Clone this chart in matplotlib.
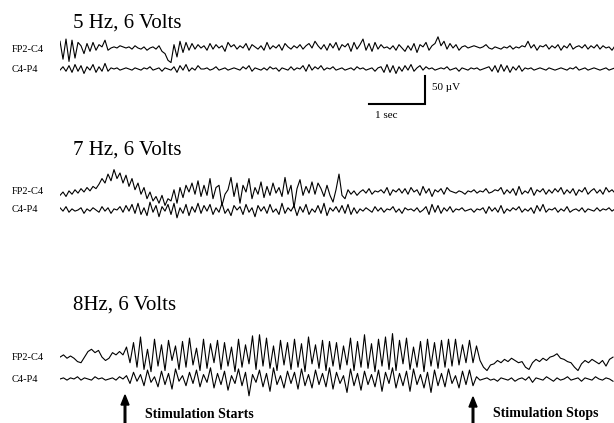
import numpy as np
import matplotlib.pyplot as plt

# EEG traces, amplitudes in µV (scale bar: 50 µV, 1 sec)
# panels 1-2 were read every 3 px (56 px = 1 s), panel 3 at 16 samples/s
fs_5hz = 56 / 3
fs_7hz = 56 / 3
fs_8hz = 16.0

fp2_c4_5hz = [12, -20, 16, -24, 14, -18, 10,
              4, -10, 8, -6, 10, -4, 6, 2, 14,
              -4, 0, 2, 0, 4, 2, 0,
              2, -2, 4, 0, -2, 2, -4, 0, 2,
              -2, 4, -6, -10, -22,
              -26, 6, -16, 12, -8,
              10, -4, 8, -2, 6, 0,
              4, -4, 8, -2, 6, 0, 4, -6, 10, 2,
              6, -2, 4, 0, 8, -4, 6, 2, -2,
              4, -4, 10, -2, 4, 0, 6, -4, 8, 2,
              -2, 4, 0, 6, -2, 4, 8, 0, 12,
              4, -2, 6, -4, 8, 0, 10, -4, 6, 2,
              8, -6, 10, -2, 6, 16, -4, 8, -6, 10,
              -2, 6, 0, 2, -2, 4, -4, 6, 0, -6,
              4, -4, 8, -8, 6, 2, 10, -4, 4, 8,
              20, 4, 12, -2, 8, 0, 6, -4, 2, 4,
              0, 2, 4, 2, 0, 2, 6, 0, -2, 2,
              0, -2, 2, 0, 4, -2, 2, 0, 4, 2,
              12, 0, 6, -4, 4, 2, 6, -2, 4, 0,
              6, -4, 4, 0, 8, -2, 2, 4, 0, 6,
              -2, 4, 0, 6, -2, 4, 0, 2, -4, 4]

c4_p4_5hz = [-2, 4, -4, 6, -6, 8, -4, 6, -8, 4, -2, 8, -6, 4, -4, 10, -4, 2,
             0, 2, -2, 0, 2, 0, -2, 2, 0, -2, 2, 0, 4, -2, 0, 2, -4, 2, 0, -2,
             4, -6, 6, -2, 8, -4, 2, -2, 6, 0,
             0, 2, -2, 0, 4, -2, 0, 2, -2, 0, 2, 0, -2, 4, 0, 6, -4, 2, 0, -2,
             2, -2, 4, 0, 2, -4, 2, 0, -2, 4, -2, 2, 0,
             6, -4, 8, -2, 4, 0, 6, -2, 2, 0, 4, -2,
             0, 2, -2, 0, 2, -2, 4, 0, 2, -2, 0, 2, -4, 2,
             4, -6, 8, -6, 6, -8, 4, -4, 6, -2, 8, -4, 2, 6, -2, 4,
             0, 2, -2, 0, 2, 0, 4, -2, 0, 2, -4, 2, 0, -2, 2, 0, 2, -2, 0, 2,
             4, -4, 6, -6, 8, -4, 6, -6, 4, -2, 6, -4, 2,
             0, 2, -2, 0, 2, 0, -2, 2, 0, -2, 0, 2, 0, -2, 2, 0, 4, -2, 0, 2,
             -2, 0, 2, 0, -2, 0, 2, -2, 0, 2, 0]

fp2_c4_7hz = [-6, 0, -8, 2, -4, 4, -2, 6, 0, 8, 2, 10, 6,
              14, 24, 16, 32, 20, 40, 24, 34,
              16, 30, 10, 24, 4, 16, -4, 8, -12, 0,
              -16, -8, -20, -6, -24, -12,
              -16, 4, -20, 8, -10, 12,
              0, 16, -4, 20, -8, 12, -6, 24, -12, 8, 12, -24, -4,
              4, 26, -8, 16, -20, 12, 0, 24, -12, 8, -4, 18, -10,
              10, -6, 16, -2, 8, -8, 26, -4, 12, -28, 6, 22, -6,
              10, -2, 18, -4, 16, 6, -8, 12, -6, -18,
              4, 32, -6,
              -12, 4, -4, 2, -6, 0, 4, -2, 6, -4, 2, 0, 4, -2, 8, -6, 4, 0, 6,
              -2, 6, -4, 8, 0, 4, -6, 10, -2, 6, -8, 4, 0, 6, -4, 8, 2,
              0, -2, 2, 0, -4, 2, 0, 4, -2, 2, 0, 6, -2, 0, 4, 2,
              8, -4, 4, -2, 6, -6, 10, -4, 2, -2, 8, -6, 4, 0, 6, -4,
              4, -2, 6, 0, 8, -4, 4, -2, 6, -6, 4, 0, 8, -4, 2, 6, -2, 4, -4, 8,
              0, 4, -2, 6]

c4_p4_7hz = [4, -2, 6, -4, 2, -2, 0, 4, -6, 2, -2, 4, 0, -4, 6, -2, 4, -6, 2, 0,
             6, -4, 8, -2,
             10, -6, 12, -8, 4, -10, 14, -4, 8, -12, 6, -2, 10, -8, 12, -14, 4,
             -6, 10, -10, 6, -4, 12,
             -6, 8, -2, 10, -8, 4, -4, 12, -6, 2, -10, 8, 0, 6, -8, 10, -4, 4,
             -12, 8, -2, 6, -6, 10, -4, 2, -8, 12, -6, 4, -2, 8, -10, 6, -4, 10,
             -8, 2, -4, 8, -6, 12, -10, 4, -2,
             6, -4, 8, -6, 10, -8, 4, -6, 2, -2, 4, 0, -4, 6, -2, 4, -4, 2, 0,
             6, -4, 2, -6, 4, 0, 2, -2, 4, -4, 0, 6, -8, 10, -4, 8, -6, 4, -2,
             6, -4, 2, 0, 4, -2, 0, 2, -4, 2, 0, 4, -6, 6, -2, 4, -4, 8, -6, 2,
             -2, 4, 0, 6, -4, 2, -2, 4, -6, 8, -2, 10, -4, 2, 0, 4, -4, 2, -2,
             6, -4, 0, 2, -2, 4, -4, 2, 0, -2, 4, -2, 2, 0, 4, -2, 2, -4]

fp2_c4_8hz = [-2, 2, -4, 0, -4, -10, -12, -2, 8, 12, 6, 10, -2, -8, -4, 6, 2, 8, 2,
              16, -12, 24, -20, 34, -24, 12, -28, 30, -18, 20, -26, 28, -8, 18,
              -24, 26, -20, 32, -16,
              14, -26, 30, -22, 22, -12, 28, -24, 24, -18, 16, -28, 30, -20, 20,
              -14, 36, -24, 38, -18,
              32, -22, 18, -26, 28, -16, 24, -24, 30, -20, 22, -28, 34, -14, 20,
              -22, 28, -26, 26, -18,
              24, -24, 18, -16, 32, -26, 26, -20, 38, -22, 22, -28, 30, -18, 34,
              -24, 40, -26, 28, -14,
              32, -24, 16, -20, 26, -28, 30, -18, 24, -22, 28, -20, 30, -18, 30,
              -16, 20, -12, 28, -12,
              18, -8, -20, -26, -16,
              -14, -8, -12, -6, -10, -4, -8, -12, -10, -20, -24, -12, -6, -10, -4,
              -8, -2, 0, 4, -4, -6, -10, -12, -20, -26, -14, -8, -12, -6, -10,
              -14, -8, -18, -6, -2]

c4_p4_8hz = [0, 2, -2, 2, 0, 4, -2, 2, 0, -2, 4, 0, 2, -2, 0, 2, -2, 4, 0,
             6, -8, 12, -4, 8, -12, 16, -6, 4, -14, 14, -10, 10, -18, 18, -4, 6,
             -12, 12, -8,
             16, -14, 8, -6, 20, -16, 10, -10, 14, -20, 6, -8, 18, -12, 12, -30,
             8, -6, 16, -14,
             10, -22, 20, -10, 6, -16, 14, -8, 12, -18, 18, -12, 8, -16, 16, -10,
             10, -14, 20, -18,
             12, -8, 6, -24, 18, -12, 10, -20, 14, -10, 8, -14, 16, -22, 12, -8,
             20, -16, 10, -12,
             14, -22, 18, -10, 8, -16, 12, -24, 16, -12, 10, -14, 18, -8, 6, -16,
             14, -10, 16, -12,
             4, -2, 0, 2, -2, 0, -4, 2, 0, -2, 2, -4, 0, 2, -2, 4, -6, 2, 0, -2,
             4, 0, -4, 2, -2, 0, 4, -2, 0, 2, -4, 2, 0, -2, 4, 0, -2, 2, 0, -4]

titles = ['5 Hz, 6 Volts', '7 Hz, 6 Volts', '8Hz, 6 Volts']
channels = ['FP2-C4', 'C4-P4']

W, H = 614, 423
PX_PER_SEC = 56
PX_PER_UV = 28 / 50
X0 = 60

fig = plt.figure(figsize=(W / 100, H / 100), dpi=100)


def panel_axes(y_top, pad=60):
    top_px, bot_px = y_top - pad, y_top + pad
    ax = fig.add_axes([X0 / W, 1 - bot_px / H, (W - X0) / W, (bot_px - top_px) / H])
    ax.set_xlim(0, (W - X0) / PX_PER_SEC)
    ax.set_ylim(-pad / PX_PER_UV, pad / PX_PER_UV)
    ax.axis('off')
    return ax


panels = [
    (fp2_c4_5hz, c4_p4_5hz, fs_5hz, 48, 69),
    (fp2_c4_7hz, c4_p4_7hz, fs_7hz, 192, 210),
    (fp2_c4_8hz, c4_p4_8hz, fs_8hz, 356, 379),
]

axes = []
for top, bottom, fs, y_top, y_bot in panels:
    ax = panel_axes(y_top)
    offset = -(y_bot - y_top) / PX_PER_UV
    ax.plot(np.arange(len(top)) / fs, top, color='black', lw=0.8)
    ax.plot(np.arange(len(bottom)) / fs, np.array(bottom) + offset, color='black', lw=0.8)
    axes.append(ax)

# calibration bar: 1 sec by 50 µV
t_c = (425 - X0) / PX_PER_SEC
y_c = -(104 - 48) / PX_PER_UV
axes[0].plot([t_c - 1, t_c, t_c], [y_c, y_c, y_c + 50], color='black', lw=1.5,
             solid_joinstyle='miter', clip_on=False)

# text and arrows on a pixel overlay
ov = fig.add_axes([0, 0, 1, 1], zorder=5)
ov.set_xlim(0, W)
ov.set_ylim(H, 0)
ov.axis('off')

serif = 'Liberation Serif'
for title, yb in zip(titles, [28, 155, 310]):
    ov.text(73, yb, title, fontsize=15, family=serif, va='baseline')

for (_, _, _, y_top, y_bot), (ly1, ly2) in zip(panels, [(50, 70), (191, 209), (358, 380)]):
    ov.text(12, ly1, channels[0], fontsize=7.5, family=serif, va='center')
    ov.text(12, ly2, channels[1], fontsize=7.5, family=serif, va='center')

ov.text(432, 88, '50 µV', fontsize=8, family=serif, va='center')
ov.text(375, 115, '1 sec', fontsize=8, family=serif, va='center')

for xa, tip, label in [(125, 395, 'Stimulation Starts'), (473, 397, 'Stimulation Stops')]:
    ov.arrow(xa, H, 0, tip - H, width=1.6, head_width=8, head_length=10,
             length_includes_head=True, color='black')
    ov.text(xa + 20, 414, label, fontsize=10, family=serif, weight='bold', va='center')

fig.savefig('out.png', dpi=100, facecolor='white')
